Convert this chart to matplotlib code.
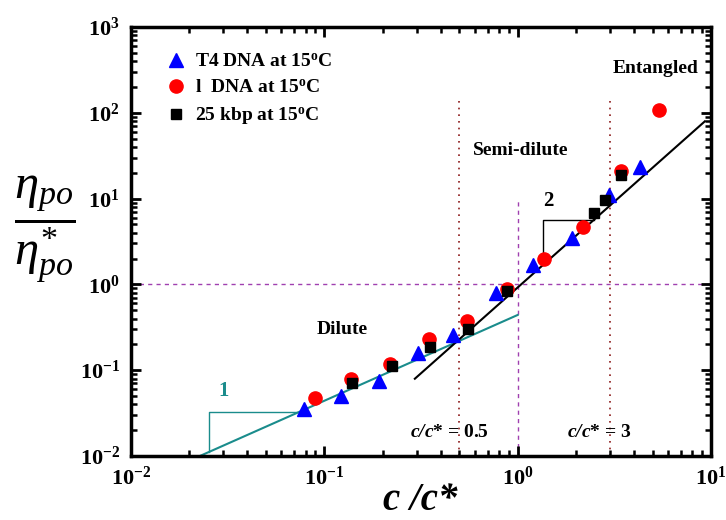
import numpy as np
import matplotlib
matplotlib.use("Agg")
import matplotlib.pyplot as plt
from matplotlib.ticker import LogLocator, FuncFormatter, NullFormatter

plt.rcParams['font.family'] = ['Liberation Serif', 'DejaVu Serif']
plt.rcParams['mathtext.fontset'] = 'custom'
plt.rcParams['mathtext.rm'] = 'Liberation Serif'
plt.rcParams['mathtext.bf'] = 'Liberation Serif:bold'
plt.rcParams['mathtext.it'] = 'Liberation Serif:italic'
plt.rcParams['mathtext.bfit'] = 'Liberation Serif:italic:bold'

# Data
t4_x = [0.0785, 0.122, 0.192, 0.305, 0.464, 0.773, 1.20, 1.91, 2.97, 4.30]
t4_y = [0.0354, 0.0502, 0.0751, 0.160, 0.260, 0.80, 1.70, 3.43, 10.9, 23.1]
lam_x = [0.0896, 0.137, 0.219, 0.348, 0.547, 0.881, 1.37, 2.18, 3.43, 5.39]
lam_y = [0.0476, 0.0794, 0.119, 0.233, 0.378, 0.893, 2.00, 4.61, 20.8, 107]
kbp_x = [0.139, 0.224, 0.352, 0.553, 0.881, 2.48, 2.83, 3.43]
kbp_y = [0.0713, 0.112, 0.187, 0.305, 0.848, 6.71, 9.53, 18.7]

labels = ["T4 DNA at 15$^{\\mathbf{o}}$C", "l  DNA at 15$^{\\mathbf{o}}$C", "25 kbp at 15$^{\\mathbf{o}}$C"]

# Fit lines: slope 1 (dilute) and slope 2 (semi-dilute)
dil_k, dil_range = 0.44, (0.0227, 1.0)
semi_k, semi_range = 0.92, (0.294, 9.3)

fig = plt.figure(figsize=(7.26, 5.20), dpi=100)
ax = fig.add_axes([0.1804, 0.1231, 0.7989, 0.8250])
ax.set_xscale('log')
ax.set_yscale('log')
ax.set_xlim(1e-2, 1e1)
ax.set_ylim(1e-2, 1e3)

teal = '#1a8c8c'
# reference lines
ax.axhline(1.0, color='#a040b0', ls=(0, (3, 3)), lw=1.0, zorder=1)
ax.plot([1, 1], [1e-2, 10], color='#a040b0', ls=(0, (3, 3)), lw=1.0, zorder=1)
ax.plot([0.5, 0.5], [1e-2, 150], color='#8b1a1a', ls=(0, (1, 3)), lw=1.2, zorder=1)
ax.plot([3, 3], [1e-2, 150], color='#8b1a1a', ls=(0, (1, 3)), lw=1.2, zorder=1)

xd = np.array(dil_range)
ax.plot(xd, dil_k * xd, color=teal, lw=1.5, zorder=2)
xs = np.array(semi_range)
ax.plot(xs, semi_k * xs ** 2, color='black', lw=1.5, zorder=2)

# slope triangles
x0, x1 = 0.0253, 0.0747
ax.plot([x0, x0, x1], [dil_k * x0, dil_k * x1, dil_k * x1], color=teal, lw=1.0, zorder=2)
ax.text(0.0303, 0.0574, '1', color=teal, fontsize=15, fontweight='bold', ha='center', va='center')
x0, x1 = 1.35, 2.49
ax.plot([x0, x0, x1], [semi_k * x0 ** 2, semi_k * x1 ** 2, semi_k * x1 ** 2], color='black', lw=1.0, zorder=2)
ax.text(1.44, 9.3, '2', color='black', fontsize=15, fontweight='bold', ha='center', va='center')

ax.plot(t4_x, t4_y, '^', color='#0000ff', ms=10, ls='none', label=labels[0], zorder=3)
ax.plot(lam_x, lam_y, 'o', color='#ff0000', ms=9.5, ls='none', label=labels[1], zorder=3)
ax.plot(kbp_x, kbp_y, 's', color='black', ms=7, ls='none', label=labels[2], zorder=3)

leg = ax.legend(loc='upper left', bbox_to_anchor=(0.03, 0.98), frameon=False,
                prop={'weight': 'bold', 'size': 14}, handletextpad=0.5,
                labelspacing=0.45, handlelength=1.0)

# region labels
ax.text(5.14, 324, 'Entangled', fontsize=14, fontweight='bold', ha='center', va='center')
ax.text(1.04, 36, 'Semi-dilute', fontsize=14, fontweight='bold', ha='center', va='center')
ax.text(0.124, 0.296, 'Dilute', fontsize=14, fontweight='bold', ha='center', va='center')
ax.text(0.442, 0.019, '$\\mathbfit{c/c}$* = 0.5', fontsize=14, fontweight='bold', ha='center', va='center')
ax.text(2.64, 0.019, '$\\mathbfit{c/c}$* = 3', fontsize=14, fontweight='bold', ha='center', va='center')

# axes styling
for s in ax.spines.values():
    s.set_linewidth(2.5)
ax.xaxis.set_major_locator(LogLocator(base=10, numticks=10))
ax.xaxis.set_minor_locator(LogLocator(base=10, subs=np.arange(2, 10), numticks=10))
ax.yaxis.set_major_locator(LogLocator(base=10, numticks=10))
ax.yaxis.set_minor_locator(LogLocator(base=10, subs=np.arange(2, 10), numticks=10))
fmt = FuncFormatter(lambda v, p: '$\\mathbf{10^{%d}}$' % int(round(np.log10(v))))
ax.xaxis.set_major_formatter(fmt)
ax.yaxis.set_major_formatter(fmt)
ax.xaxis.set_minor_formatter(NullFormatter())
ax.yaxis.set_minor_formatter(NullFormatter())
ax.tick_params(which='both', direction='in', top=True, right=True, width=2)
ax.tick_params(which='major', length=7, labelsize=16, pad=8)
ax.tick_params(which='minor', length=4, width=1.8)

fig.text(420 / 726, 1 - 501 / 520, 'c /c*', fontsize=28, fontweight='bold', fontstyle='italic',
         ha='center', va='center')
fig.text(45 / 726, 1 - 229 / 520, '$\\dfrac{\\eta_{po}}{\\eta^{*}_{po}}$', fontsize=35,
         ha='center', va='center')

fig.savefig('out.png', dpi=100)
